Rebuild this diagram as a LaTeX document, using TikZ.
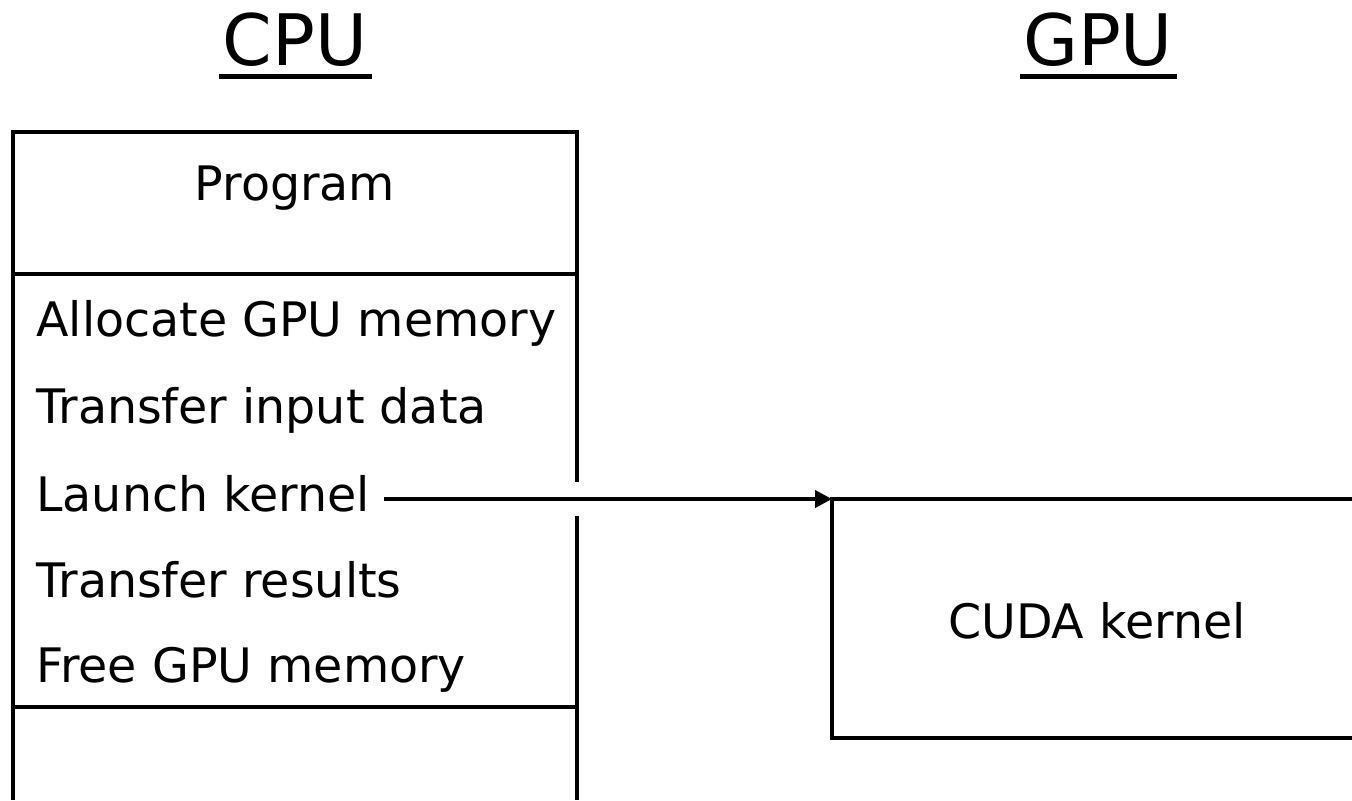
\documentclass[tikz,border=0pt]{standalone}
\usepackage{fontspec}
\setmainfont{DejaVu Sans}
\usetikzlibrary{calc,arrows.meta}
\begin{document}
\begin{tikzpicture}[x=0.5pt,y=-0.5pt,
  boxline/.style={line width=1.9pt},
  item/.style={anchor=base west,inner sep=0pt,font=\fontsize{23.75pt}{28pt}\selectfont},
  centered/.style={anchor=base,inner sep=0pt,font=\fontsize{23.75pt}{28pt}\selectfont},
  title/.style={anchor=base,inner sep=0pt,font=\fontsize{35.5pt}{42pt}\selectfont},
  uline/.style={line width=2.3pt},
  arr/.style={line width=1.9pt,-{Triangle[length=8.5pt,width=8.5pt]}}]
\useasboundingbox (0,0) rectangle (1352,800);
% titles
\node[title] (cputitle) at (295,65) {CPU};
\node[title] (gputitle) at (1098,65) {GPU};
\draw[uline] ($(cputitle.base west)+(-3,11.5)$) -- ($(cputitle.base east)+(4,11.5)$);
\draw[uline] ($(gputitle.base west)+(-3,11.5)$) -- ($(gputitle.base east)+(4,11.5)$);
% CPU box
\draw[boxline] (13,800) -- (13,132) -- (577,132) -- (577,482);
\draw[boxline] (577,516) -- (577,800);
\draw[boxline] (13,274) -- (577,274);
\draw[boxline] (13,707) -- (577,707);
\node[centered] (program) at (295,200) {Program};
\node[item] (alloc) at (36,336) {Allocate GPU memory};
\node[item] (xin) at (36,423.5) {Transfer input data};
\node[item] (launch) at (36,511) {Launch kernel};
\node[item] (xout) at (36,597) {Transfer results};
\node[item] (free) at (36,682) {Free GPU memory};
% GPU box
\coordinate (gtl) at (832,499);
\draw[boxline] (1356,499) -- (gtl) -- (832,738) -- (1356,738);
\node[centered] (kernel) at (1097,638) {CUDA kernel};
% arrow
\coordinate (astart) at ($(launch.base east)+(14,-12)$);
\draw[arr] (astart) -- (astart -| gtl);
\end{tikzpicture}
\end{document}
